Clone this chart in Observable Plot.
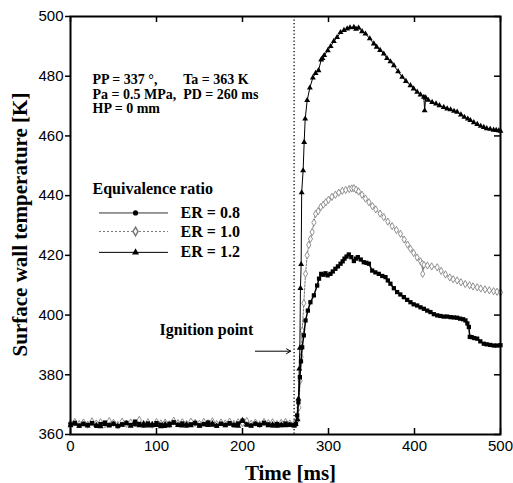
<!DOCTYPE html>
<html>
<head>
<meta charset="utf-8">
<script src="https://cdn.jsdelivr.net/npm/d3@7"></script>
<script src="https://cdn.jsdelivr.net/npm/@observablehq/plot@0.6"></script>
<style>
  html, body { margin: 0; padding: 0; background: #fff; }
  #chart { width: 513px; height: 483px; }
</style>
</head>
<body>
<div id="chart"></div>
<script>
// ---- data ----
const xTicks = [0, 100, 200, 300, 400, 500];
const yTicks = [360, 380, 400, 420, 440, 460, 480, 500];

const baseTime = [0,5,10,15,20,25,30,35,40,45,50,55,60,65,70,75,80,85,90,95,100,105,110,115,120,125,130,135,140,145,150,155,160,165,170,175,180,185,190,195,200,205,210,215,220,225,230,235,240,245,250,255,260];

const er08Base = [363.4,363.9,363.0,363.6,363.2,363.8,362.9,363.5,364.0,363.1,
  363.6,362.8,363.4,363.9,363.2,364.3,363.5,363.0,363.7,363.1,
  363.8,363.3,362.9,363.6,364.1,363.2,363.7,363.0,363.4,363.9,
  363.1,363.5,364.0,363.3,362.9,363.6,363.2,363.8,363.1,363.7,
  364.6,363.3,363.0,363.6,363.2,363.9,363.4,363.0,363.5,363.1,
  363.7,363.3,363.1];
const er10Base = [363.8,364.2,363.5,364.0,363.3,364.4,363.7,364.1,363.4,364.5,
  363.9,363.2,364.3,363.6,364.0,363.8,364.9,363.5,364.1,363.3,
  364.2,363.7,364.0,363.4,364.6,363.8,364.1,363.5,364.3,363.9,
  363.6,364.2,363.8,364.4,363.5,364.0,363.7,364.3,363.6,364.1,
  363.8,364.5,363.6,364.0,363.4,364.2,363.8,364.1,363.5,363.9,
  364.2,363.7,363.6];
const er12Base = [363.0,363.5,362.8,363.3,362.9,363.6,363.1,362.7,363.4,363.0,
  363.5,362.9,363.2,363.7,362.8,363.3,363.0,363.6,362.9,363.4,
  363.1,362.7,363.5,363.0,363.8,363.2,362.9,363.4,363.0,363.6,
  362.8,363.3,363.1,363.7,362.9,363.4,363.0,363.5,363.2,362.8,
  364.8,363.3,362.9,363.5,363.1,363.6,363.0,363.4,362.8,363.3,
  363.0,363.2,362.9];

// after ignition: [time ms, temperature K]
const er08Rise = [[262,363.5],[263.6,366.4],[265,370.8],[266.7,379.2],[268,384.5],[269.4,389.2],[271.3,393.2],[273.3,398.2],[276,401.5],[279,404.3],[283,406.6],[286.8,409.9],[289,412.2],[291.5,413.8],[294,413.5],[296.5,414],[299,413.3],[302.3,413.8],[305,414.6],[308,415.5],[311,416.3],[314,417.2],[316.5,418.0],[318.6,418.9],[321,419.6],[323.6,420.3],[326.5,419.4],[329.5,418.1],[332,418.9],[334.1,419.4],[337.5,418.6],[341,417.7],[344,417.5],[347,417.2],[350.8,414.9],[354.5,414.3],[358.5,413.8],[362.5,413.1],[366.3,412.7],[369,411.6],[372,410.5],[376,409.0],[379.8,407.7],[383.5,406.9],[387.6,406.0],[391.5,405.1],[395.3,404.3],[399,403.6],[403.1,403.2],[407,402.6],[410.9,402.1],[414.8,401.5],[418.6,401.0],[422.5,400.3],[426.4,399.9],[430,399.7],[434,399.5],[438,399.5],[442,399.3],[446,399.2],[449.6,399.1],[453,398.8],[456.5,398.6],[459.3,398.2],[461.5,397.2],[463.2,396.0],[464.3,392.7],[466.5,392.6],[469.5,392.3],[472.9,392.1],[476.5,391.2],[480.6,390.4],[484,390.2],[488,390.0],[492.2,389.8],[496,389.8],[500,389.9]];

const er10Rise = [[262,363.8],[264,365],[265.5,369],[267,378],[268.2,386],[269.4,394.8],[271.3,404],[273.3,413.8],[275.2,420],[277,423.5],[279,425.5],[281,427.8],[283,431],[285,433.9],[288,434.8],[291,436.2],[294,437],[297,437.8],[300,438.6],[304,439.6],[308,440.3],[312,441],[316,441.6],[320,441.9],[324,442.2],[327,442.4],[329.5,442.5],[332,442],[335,441.4],[339,440.3],[343,439],[347,437.8],[351,436.5],[355,435.4],[360,434],[364.3,432.8],[369,431.3],[374,429.8],[379,428.5],[383.7,427.2],[388,425.3],[392,423.6],[395.3,422.2],[399,420.8],[403,419.3],[407,418],[408.9,417.2],[409.5,413.8],[411,416.8],[415,416.6],[420,416.3],[426.4,416],[431,414.8],[436,413.6],[441,412.6],[445,412],[449.6,411.6],[454,411],[459,410.4],[464,410],[468,409.6],[472.9,409.3],[477,408.9],[482,408.6],[487,408.3],[492,408],[496,407.8],[500,407.6]];

const er12Rise = [[262,363.5],[264,365],[265,372],[266,382],[266.7,389],[267.4,409],[268.2,417],[268.8,441],[270.5,448.4],[271.7,457.9],[272.9,465.7],[275.2,471.9],[278.3,476.1],[281.8,479.5],[285,481],[288.4,481.9],[291.5,485.5],[293,486],[295,487],[299.2,488.6],[302.5,490],[306.2,491.7],[310,493],[314,494.7],[318,495.4],[321.7,495.9],[325,496.3],[329.5,496.4],[332,495.8],[335,496.2],[339,495],[343,494.2],[348,492.6],[352.7,490.9],[356,489.8],[360,488.7],[364.3,487.5],[368,486],[372,484.9],[376,483.6],[381,481.6],[385.7,479.7],[390,478.3],[395.3,476.9],[399,475.8],[403.1,474.7],[407,473.8],[410.9,473],[411.8,468.5],[413,472.8],[416,472],[420.5,471.3],[425,470.8],[429,470.2],[434,469.6],[438,469.1],[442,468.8],[446,468.3],[449.6,468],[454,467.1],[458,466.3],[462,465.7],[465,465.2],[469,464.5],[473,463.9],[477,463.3],[480.6,462.9],[484,462.5],[488,462.3],[492,462],[495,461.9],[498,461.8],[500,461.6]];

const ignitionTime = [260];
const seriesLabels = ["ER = 0.8", "ER = 1.0", "ER = 1.2"];
const infoLines1 = ["PP = 337 °,", "Pa = 0.5 MPa,", "HP = 0 mm"];
const infoLines2 = ["Ta = 363 K", "PD = 260 ms"];

// ---- build series ----
const er08 = baseTime.map((t, i) => [t, er08Base[i]]).concat(er08Rise);
const er10 = baseTime.map((t, i) => [t, er10Base[i]]).concat(er10Rise);
const er12 = baseTime.map((t, i) => [t, er12Base[i]]).concat(er12Rise);

const serif = "'Liberation Serif', 'Times New Roman', serif";
const sans = "'Liberation Sans', Arial, sans-serif";
const txt = {fontFamily: serif, fontWeight: "bold", fontSize: 16, fill: "black"};
const info = {fontFamily: serif, fontWeight: "bold", fontSize: 14, fill: "black"};

// legend rows (annotation positions in chart units)
const legendY = [434.2, 428.0, 421.0];
const infoY = [478.9, 474.0, 469.2];

const chart = Plot.plot({
  width: 513,
  height: 483,
  marginLeft: 70,
  marginRight: 13,
  marginTop: 16,
  marginBottom: 49,
  style: {fontFamily: sans, fontSize: "15px", background: "white", color: "black", overflow: "visible"},
  x: {domain: [0, 500]},
  y: {domain: [360, 500]},
  marks: [
    // ignition dotted line
    Plot.ruleX(ignitionTime, {x: d => d, stroke: "black", strokeWidth: 1.3, strokeDasharray: "1.3,2.2"}),
    // ER = 1.0
    Plot.line(er10, {x: d => d[0], y: d => d[1], stroke: "#777", strokeWidth: 1, strokeDasharray: "2,1.5"}),
    Plot.dot(er10, {x: d => d[0], y: d => d[1], symbol: "diamond", r: 2.2, fill: "white", stroke: "#777", strokeWidth: 0.8}),
    // ER = 0.8
    Plot.line(er08, {x: d => d[0], y: d => d[1], stroke: "black", strokeWidth: 1.5}),
    Plot.dot(er08, {x: d => d[0], y: d => d[1], symbol: "square", r: 2.4, fill: "black", stroke: "none"}),
    // ER = 1.2
    Plot.line(er12, {x: d => d[0], y: d => d[1], stroke: "black", strokeWidth: 1}),
    Plot.dot(er12, {x: d => d[0], y: d => d[1], symbol: "triangle", r: 2.2, fill: "black", stroke: "none"}),

    // frame and ticks
    Plot.frame({stroke: "black", strokeWidth: 2}),
    Plot.tickX(xTicks, {x: d => d, insetTop: 412, stroke: "black", strokeWidth: 1.5}),
    Plot.tickX(xTicks, {x: d => d, insetBottom: 412, stroke: "black", strokeWidth: 1.5}),
    Plot.tickY(yTicks, {y: d => d, insetLeft: 424, stroke: "black", strokeWidth: 1.5}),
    Plot.axisY({ticks: yTicks, tickSize: 5, tickPadding: 2, label: null, strokeWidth: 1.5, fontSize: 15}),
    Plot.axisX({ticks: xTicks, tickSize: 0, tickPadding: 6, label: null, fontSize: 15}),

    // axis titles
    Plot.text(["Surface wall temperature [K]"], {frameAnchor: "left", textAnchor: "middle", rotate: -90, dx: -50, dy: -1, fontSize: 21, fontWeight: "bold", fontFamily: serif, fill: "black"}),
    Plot.text(["Time [ms]"], {frameAnchor: "bottom", textAnchor: "middle", dx: 5, dy: 45, fontSize: 21, fontWeight: "bold", fontFamily: serif, fill: "black"}),

    // info text
    Plot.text(infoLines1, {x: 25.6, y: (d, i) => infoY[i], textAnchor: "start", ...info}),
    Plot.text(infoLines2, {x: 131, y: (d, i) => infoY[i], textAnchor: "start", ...info}),

    // legend
    Plot.text(["Equivalence ratio"], {x: 25.6, y: 442.4, textAnchor: "start", ...txt}),
    Plot.ruleY([legendY[0]], {x1: 33.7, x2: 113.9, stroke: "#333", strokeWidth: 1}),
    Plot.dot([legendY[0]], {x: 75.6, y: d => d, symbol: "circle", r: 2.6, fill: "black"}),
    Plot.ruleY([legendY[1]], {x1: 33.7, x2: 113.9, stroke: "#777", strokeWidth: 1, strokeDasharray: "2,2"}),
    Plot.dot([legendY[1]], {x: 75.6, y: d => d, symbol: "diamond", r: 2.6, fill: "white", stroke: "#777"}),
    Plot.ruleY([legendY[2]], {x1: 33.7, x2: 113.9, stroke: "black", strokeWidth: 1}),
    Plot.dot([legendY[2]], {x: 75.6, y: d => d, symbol: "triangle", r: 2.6, fill: "black"}),
    Plot.text(seriesLabels, {x: 128, y: (d, i) => legendY[i], textAnchor: "start", ...txt}),

    // ignition annotation
    Plot.text(["Ignition point"], {x: 103.5, y: 394.9, textAnchor: "start", ...txt}),
    Plot.arrow([0], {x1: 215, x2: 256, y1: 387.9, y2: 387.9, stroke: "black", strokeWidth: 1, headLength: 7, bend: 0})
  ]
});
document.getElementById("chart").appendChild(chart);
</script>
</body>
</html>
